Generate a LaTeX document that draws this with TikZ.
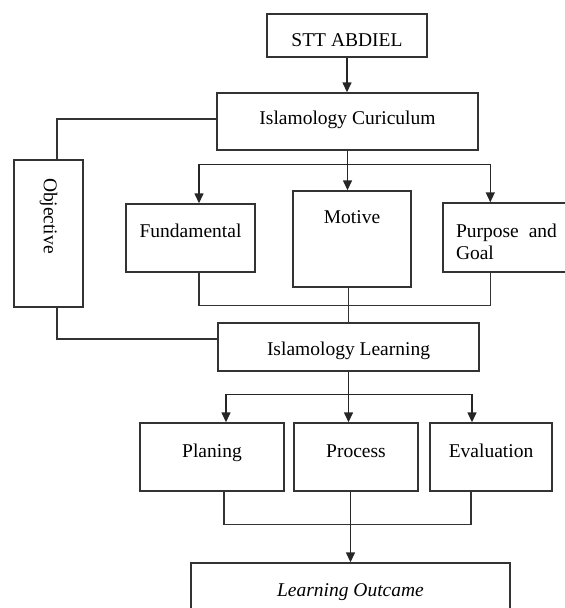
\documentclass[tikz,border=0pt]{standalone}
\usepackage{fontspec}
\setmainfont{Liberation Serif}
\usetikzlibrary{arrows.meta, positioning}

\begin{document}
\begin{tikzpicture}[
    x=1pt, y=-1pt,
    box/.style={rectangle, draw=black!80, line width=1.4pt, inner ysep=0pt, anchor=base, font=\fontsize{19.5}{22}\selectfont},
    arrow/.style={-{Triangle[length=10pt, width=9pt]}, line width=1.4pt, draw=black!85},
    link/.style={line width=1.4pt, draw=black!80}
]
\useasboundingbox (0,0) rectangle (565,608);

% Boîtes du haut
\node[box, minimum width=160pt, text height=32pt, text depth=11pt] (stt) at (347,46) {STT ABDIEL};
\node[box, minimum width=261pt, text height=31pt, text depth=26pt] (curric) at (347.5,124) {Islamology Curiculum};
\node[box, anchor=center, rotate=-90, minimum height=69pt, text width=111pt, inner xsep=18pt, align=left] (obj) at (48.5,233.5) {Objective};

% Boîtes du milieu
\node[box, minimum width=129pt, text height=33pt, text depth=35pt] (fund) at (190.5,237) {Fundamental};
\node[box, minimum width=118pt, text height=32pt, text depth=64pt] (motive) at (352,223) {Motive};
\node[box, text width=101pt, inner xsep=13pt, align=left, text height=34pt, text depth=35pt] (purp) at (506.5,237) {Purpose\hfill and\\Goal};
\node[box, minimum width=261pt, text height=32pt, text depth=16pt] (learn) at (348.5,355) {Islamology Learning};

% Boîtes du bas
\node[box, minimum width=144pt, text height=34pt, text depth=34pt] (plan) at (212,457) {Planing};
\node[box, minimum width=124pt, text height=34pt, text depth=34pt] (proc) at (356,457) {Process};
\node[box, minimum width=122pt, text height=34pt, text depth=34pt] (eval) at (491,457) {Evaluation};
\node[box, minimum width=319pt, text height=33pt, text depth=30pt] (outc) at (350.5,596) {\itshape Learning Outcame};

% Points de partage
\coordinate[below=14pt of curric.south] (split1);
\coordinate[below=23pt of learn.south] (split2);

% Flèches
\draw[arrow] (stt.south) -- (curric.north -| stt.south);
\draw[arrow] (curric.south) -- (motive.north -| curric.south);
\draw[arrow] (split1) -| ([xshift=8.5pt]fund.north);
\draw[arrow] (split1) -| ([xshift=48pt]purp.north west);
\draw[arrow] (learn.south) -- (proc.north -| learn.south);
\draw[arrow] (split2) -| ([xshift=14pt]plan.north);
\draw[arrow] (split2) -| ([xshift=-19pt]eval.north);
\draw[arrow] (proc.south -| outc.north) -- (outc.north);

% Liaisons
\draw[link] ([yshift=2.5pt]curric.west) -| ([xshift=8.5pt]obj.west);
\draw[link] ([xshift=8.5pt]obj.east) |- ([yshift=8pt]learn.west);
\draw[link] ([xshift=8.5pt]fund.south) -- ++(0,33) -| ([xshift=48pt]purp.south west);
\draw[link] (motive.south -| learn.north) -- (learn.north);
\draw[link] ([xshift=12pt]plan.south) -- ++(0,33) -| ([xshift=-20pt]eval.south);
\end{tikzpicture}
\end{document}
